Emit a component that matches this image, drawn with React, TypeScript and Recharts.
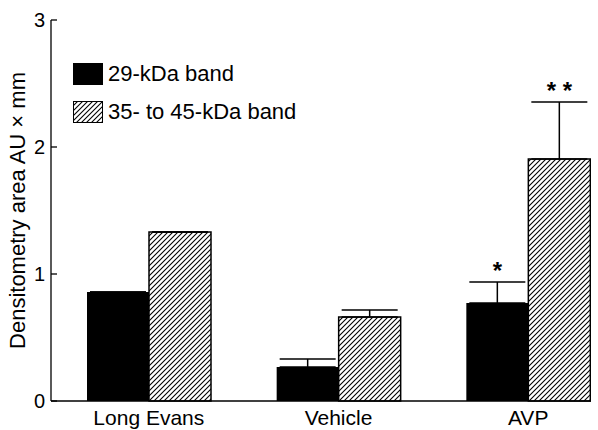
import React from 'react';
import { BarChart, Bar, XAxis, YAxis, ErrorBar } from 'recharts';

const CATEGORIES = ['Long Evans', 'Vehicle', 'AVP'];
const BAND_29 = [0.858, 0.268, 0.772];
const BAND_35_45 = [1.331, 0.661, 1.906];
const ERR_29 = [0, 0.063, 0.165];
const ERR_35_45 = [0, 0.056, 0.448];
const SIG_29 = ['', '', '*'];
const SIG_35_45 = ['', '', '* *'];
const Y_TICKS = [0, 1, 2, 3];

const SERIES = [
  { key: 'b29', name: '29-kDa band', fill: '#000', hatched: false },
  { key: 'b3545', name: '35- to 45-kDa band', fill: 'url(#hatch)', hatched: true },
];

const data = CATEGORIES.map((name, i) => ({
  name,
  b29: BAND_29[i],
  b3545: BAND_35_45[i],
  e29: [0, ERR_29[i]],
  e3545: [0, ERR_35_45[i]],
}));

const FONT = '"Liberation Sans", Arial, Helvetica, sans-serif';

const YTick = (props: any) => {
  const { x, y, payload } = props;
  return (
    <g>
      <line x1={x + 6} x2={x + 12} y1={y} y2={y} stroke="#000" strokeWidth={1.3} />
      <text x={x} y={y} dy="0.355em" textAnchor="end" fontSize={20} fontFamily={FONT} fill="#000">
        {payload.value}
      </text>
    </g>
  );
};

const YLabel = (props: any) => {
  const vb = props.viewBox || { y: 20, height: 381 };
  const cy = vb.y + vb.height / 2;
  return (
    <text
      transform={`translate(17,${cy}) rotate(-90)`}
      textAnchor="middle"
      dominantBaseline="central"
      fontSize={22}
      fontFamily={FONT}
      fill="#000"
    >
      Densitometry area AU × mm
    </text>
  );
};

// asterisks sit just above the error bar cap
const sigLabel = (errs: number[], sigs: string[]) => (props: any) => {
  const { x, y, width, height, value, index } = props;
  const sig = sigs[index];
  if (!sig || !value) return null;
  const unit = height / value;
  const capY = y - errs[index] * unit;
  return (
    <text
      x={x + width / 2}
      y={capY - 3}
      textAnchor="middle"
      fontSize={24}
      fontWeight="bold"
      fontFamily={FONT}
      fill="#000"
    >
      {sig}
    </text>
  );
};

const LegendBox = () => (
  <div style={{ position: 'absolute', left: 73, top: 63, fontFamily: FONT, fontSize: 22, color: '#000' }}>
    {SERIES.map((s, i) => (
      <div key={s.key} style={{ display: 'flex', alignItems: 'center', height: 22, marginBottom: i === 0 ? 16 : 0 }}>
        <svg width={30} height={22} style={{ display: 'block' }}>
          <rect x={0.5} y={0.5} width={29} height={21} fill={s.fill} stroke="#000" strokeWidth={1} />
        </svg>
        <span style={{ marginLeft: 5, whiteSpace: 'nowrap', lineHeight: '22px' }}>{s.name}</span>
      </div>
    ))}
  </div>
);

export default function App() {
  return (
    <div style={{ position: 'absolute', left: 0, top: 0, width: 591, height: 430, overflow: 'hidden', background: '#fff' }}>
      <BarChart
        width={623}
        height={430}
        data={data}
        margin={{ top: 20, right: 0, bottom: 0, left: 0 }}
        barGap={0}
        barSize={62}
      >
        <defs>
          <pattern id="hatch" patternUnits="userSpaceOnUse" width={5} height={5}>
            <rect width={5} height={5} fill="#fff" />
            <path d="M0,5 L5,0 M-1,1 L1,-1 M4,6 L6,4" stroke="#000" strokeWidth={1.1} />
          </pattern>
        </defs>
        <XAxis
          dataKey="name"
          height={29}
          padding={{ left: 3, right: 0 }}
          axisLine={{ stroke: '#000', strokeWidth: 1.3 }}
          tickLine={false}
          tickSize={0}
          tickMargin={9}
          tick={{ fill: '#000', fontSize: 21, fontFamily: FONT }}
        />
        <YAxis
          width={51}
          domain={[0, 3]}
          ticks={Y_TICKS}
          axisLine={{ stroke: '#000', strokeWidth: 1.3 }}
          tickLine={false}
          tickSize={0}
          tickMargin={6}
          tick={<YTick />}
          label={<YLabel />}
        />
        <Bar dataKey="b29" name={SERIES[0].name} fill="#000" isAnimationActive={false} label={sigLabel(ERR_29, SIG_29)}>
          <ErrorBar dataKey="e29" width={28} stroke="#000" strokeWidth={1.5} direction="y" />
        </Bar>
        <Bar
          dataKey="b3545"
          name={SERIES[1].name}
          fill="url(#hatch)"
          stroke="#000"
          strokeWidth={1.5}
          isAnimationActive={false}
          label={sigLabel(ERR_35_45, SIG_35_45)}
        >
          <ErrorBar dataKey="e3545" width={28} stroke="#000" strokeWidth={1.5} direction="y" />
        </Bar>
      </BarChart>
      <LegendBox />
    </div>
  );
}
